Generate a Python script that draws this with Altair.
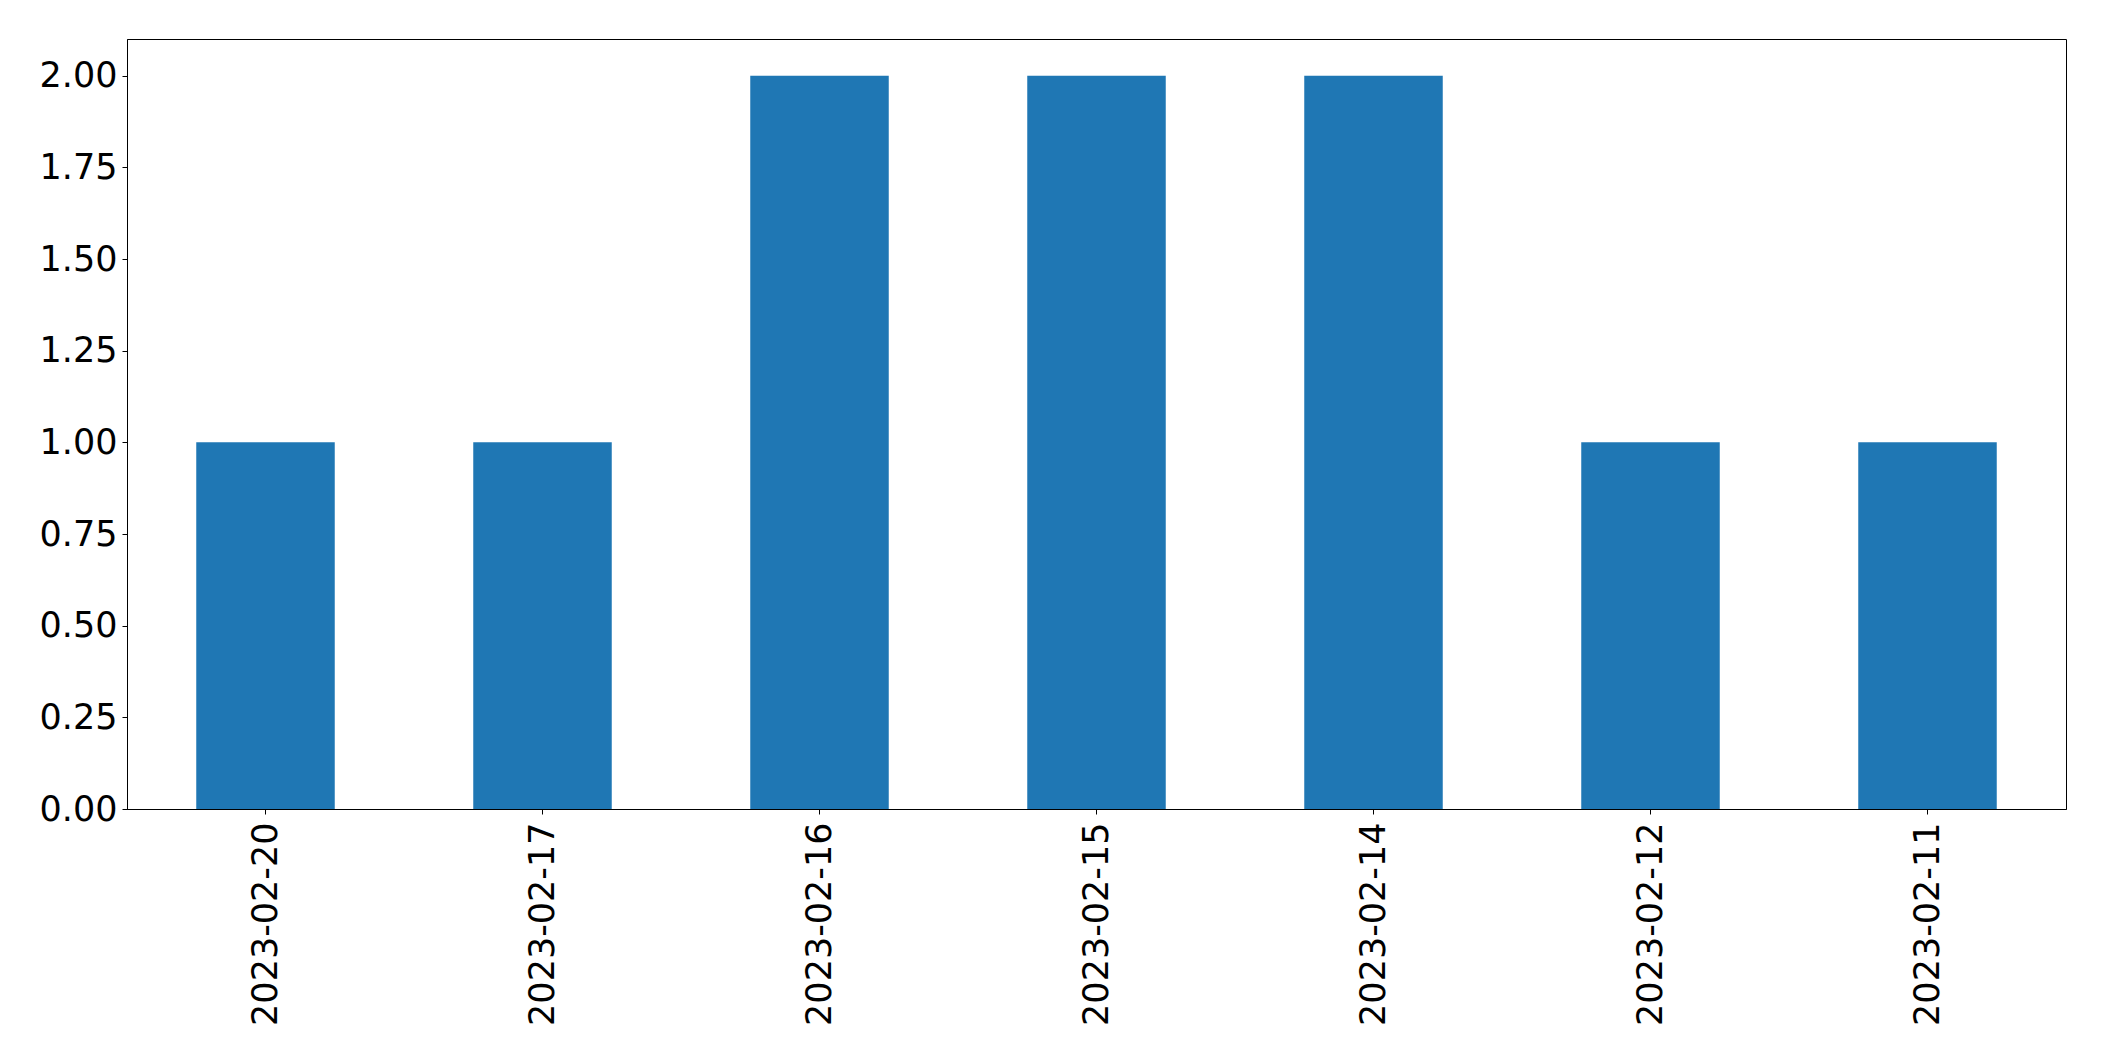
"Bar chart of counts per date"

import pandas as pd
import altair as alt

dates = ['2023-02-20', '2023-02-17', '2023-02-16', '2023-02-15',
         '2023-02-14', '2023-02-12', '2023-02-11']
counts = [1, 1, 2, 2, 2, 1, 1]
y_ticks = [0, 0.25, 0.5, 0.75, 1.0, 1.25, 1.5, 1.75, 2.0]

data = pd.DataFrame({'date': dates, 'count': counts})

FONT = 'DejaVu Sans'

chart = alt.Chart(data).mark_bar(color='#1f77b4').encode(
    x=alt.X('date:N', sort=dates, title=None,
            scale=alt.Scale(paddingInner=0.5, paddingOuter=0.25),
            axis=alt.Axis(labelAngle=-90, labelAlign='right', labelBaseline='middle',
                          labelFontSize=35, labelPadding=8, tickSize=5, labelLimit=1000)),
    y=alt.Y('count:Q', title=None,
            scale=alt.Scale(domain=[0, 2.1], nice=False, zero=True),
            axis=alt.Axis(values=y_ticks, format='.2f', labelFontSize=35,
                          labelPadding=5, tickSize=5, grid=False)),
).properties(
    width=1939, height=770,
    autosize=alt.AutoSizeParams(type='none'),
    padding={'left': 119, 'top': 31, 'right': 30, 'bottom': 240},
).configure_axis(
    labelFont=FONT, labelColor='black', domainColor='black', tickColor='black',
    domainWidth=1, tickWidth=1, labelFlush=False, labelOverlap=False,
).configure_view(
    stroke='black', strokeWidth=1,
)

chart.save("out.html", embed_options={"renderer": "svg", "actions": False})
